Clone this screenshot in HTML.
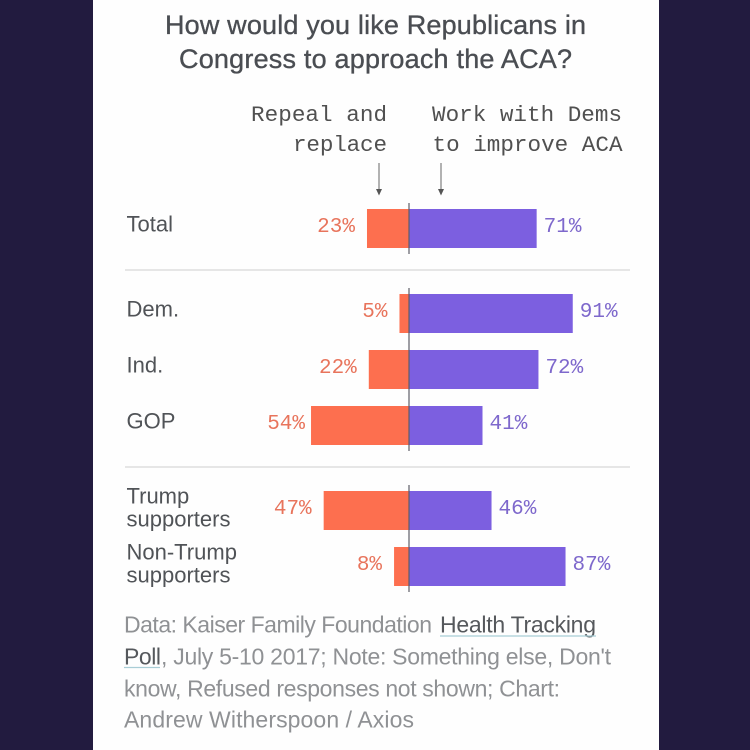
<!DOCTYPE html>
<html>
<head>
<meta charset="utf-8">
<style>
html,body{margin:0;padding:0;width:750px;height:750px;overflow:hidden;background:#221b3f;}
svg{display:block;}
.title{font:27px "Liberation Sans",sans-serif;fill:#4a4d52;stroke:#4a4d52;stroke-width:.35px;}
.mono{font:22.6px "Liberation Mono",monospace;fill:#505050;}
.cat{font:22px "Liberation Sans",sans-serif;fill:#505357;}
.val{font:21px "Liberation Mono",monospace;}
.foot{font:23px "Liberation Sans",sans-serif;fill:#8f9194;}
.link{fill:#55585c;}
</style>
</head>
<body>
<svg id="chart" width="750" height="750" viewBox="0 0 750 750" xmlns="http://www.w3.org/2000/svg">
  <rect width="750" height="750" fill="#221b3f"/>
  <rect x="93" y="0" width="566" height="750" fill="#fefefe"/>
  <text class="title" x="165" y="34" textLength="421">How would you like Republicans in</text>
  <text class="title" x="179" y="68" textLength="393">Congress to approach the ACA?</text>
  <text class="mono" x="387" y="121" text-anchor="end" textLength="136">Repeal and</text>
  <text class="mono" x="387" y="151" text-anchor="end" textLength="94">replace</text>
  <text class="mono" x="432" y="121" textLength="190">Work with Dems</text>
  <text class="mono" x="432.5" y="151" textLength="190">to improve ACA</text>
  <g id="arrow-repeal" stroke="#666" fill="#555">
    <line x1="379" y1="163" x2="379" y2="190" stroke-width="1"/>
    <path d="M376 189 L382 189 L379 195.5 Z" stroke="none"/>
  </g>
  <g id="arrow-work" stroke="#666" fill="#555">
    <line x1="441" y1="163" x2="441" y2="190" stroke-width="1"/>
    <path d="M438 189 L444 189 L441 195.5 Z" stroke="none"/>
  </g>
  <g id="marks"></g>
  <text class="foot" x="124" y="632.5" textLength="308">Data: Kaiser Family Foundation</text>
  <a>
    <text class="foot link" x="440" y="632.5" textLength="156">Health Tracking</text>
    <text class="foot link" x="124" y="664.5" textLength="37">Poll</text>
  </a>
  <line x1="440" y1="636" x2="596" y2="636" stroke="#a9cdd6" stroke-width="1.2"/>
  <line x1="124" y1="667.5" x2="160" y2="667.5" stroke="#a9cdd6" stroke-width="1.2"/>
  <text class="foot" x="161" y="664.5" textLength="450">, July 5-10 2017; Note: Something else, Don't</text>
  <text class="foot" x="124" y="696.5" textLength="436">know, Refused responses not shown; Chart:</text>
  <text class="foot" x="124" y="727.5" textLength="290">Andrew Witherspoon / Axios</text>
</svg>
<script>
const categories = [["Total"], ["Dem."], ["Ind."], ["GOP"], ["Trump", "supporters"], ["Non-Trump", "supporters"]];
const groups = [0, 1, 1, 1, 2, 2];
const repealValues = [23, 5, 22, 54, 47, 8];
const workValues = [71, 91, 72, 41, 46, 87];

const NS = 'http://www.w3.org/2000/svg';
const marks = document.getElementById('marks');
const zeroX = 408.5;
const unit = 1.805;
const firstY = 228.5;
const pitch = 56;
const groupGap = 29;
const barH = 39;
const xRight = v => zeroX + v * unit;
const xLeft = v => zeroX - v * unit;
const orange = '#fd6f4f';
const purple = '#7c5fe0';

function add(tag, attrs, text) {
  const el = document.createElementNS(NS, tag);
  for (const k in attrs) el.setAttribute(k, attrs[k]);
  if (text !== undefined) el.textContent = text;
  marks.appendChild(el);
  return el;
}

function yFor(i) {
  let y = firstY;
  for (let j = 1; j <= i; j++) {
    y += pitch;
    if (groups[j] !== groups[j - 1]) y += groupGap;
  }
  return y;
}

categories.forEach((cat, i) => {
  const y = yFor(i);
  const rv = repealValues[i];
  const wv = workValues[i];

  const b1 = add('rect', {x: xLeft(rv), y: y - barH / 2, width: zeroX - xLeft(rv), height: barH, fill: orange});
  
  

  const b2 = add('rect', {x: zeroX, y: y - barH / 2, width: xRight(wv) - zeroX, height: barH, fill: purple});
  
  

  const leftGap = rv > 50 ? 6 : 12;
  const t1 = add('text', {x: xLeft(rv) - leftGap, y: y + 3.5, 'text-anchor': 'end', class: 'val', fill: '#e8745c'}, rv + '%');
  
  

  const t2 = add('text', {x: xRight(wv) + 7, y: y + 3.5, class: 'val', fill: '#7e68cc'}, wv + '%');
  
  

  cat.forEach((line, k) => {
    const ly = cat.length === 1 ? y + 3 : y - 7 + k * 23;
    const c = add('text', {x: 126.5, y: ly, class: 'cat'}, line);
    
    
  });

  if (i > 0 && groups[i] !== groups[i - 1]) {
    const sepY = y - pitch / 2 - groupGap / 2 - 1;
    const s = add('line', {x1: 125, x2: 630, y1: sepY, y2: sepY, stroke: '#dedede', 'stroke-width': 1.6});
    
    
  }
});

const groupIds = [...new Set(groups)];
groupIds.forEach(g => {
  const idx = groups.map((v, i) => v === g ? i : -1).filter(i => i >= 0);
  const top = yFor(idx[0]) - barH / 2 - 6;
  const bottom = yFor(idx[idx.length - 1]) + barH / 2 + 6;
  const axis = add('line', {x1: zeroX + 0.5, x2: zeroX + 0.5, y1: top, y2: bottom, stroke: '#5f5f68', 'stroke-width': 1.2});
  
  
});
</script>
</body>
</html>
